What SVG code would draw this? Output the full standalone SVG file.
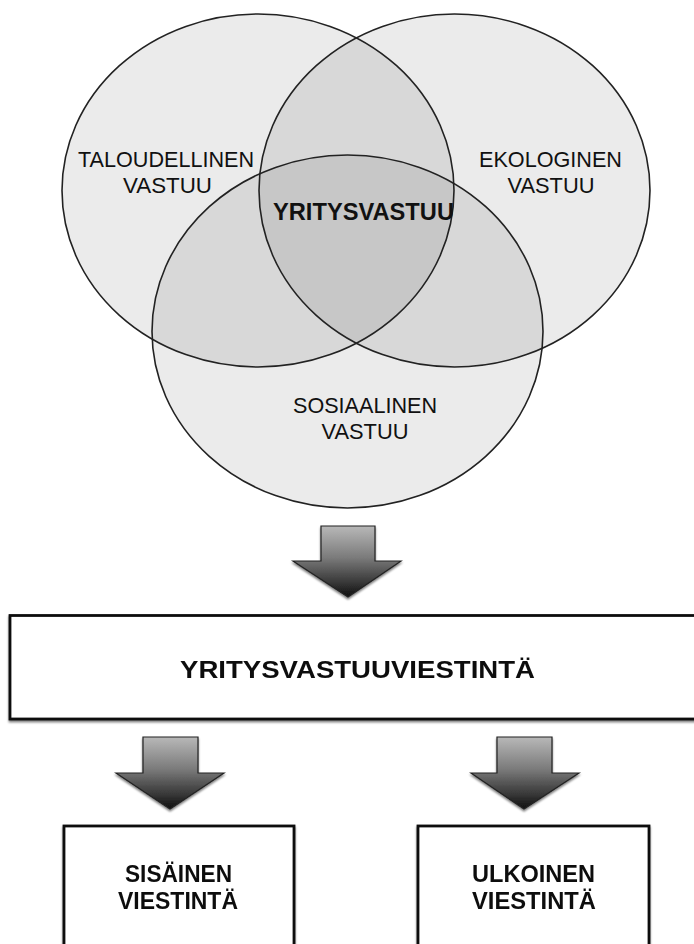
<svg xmlns="http://www.w3.org/2000/svg" width="694" height="944" viewBox="0 0 694 944">
<defs>
<linearGradient id="ag" x1="0" y1="0" x2="0" y2="1">
<stop offset="0" stop-color="#b8b8b8"/>
<stop offset="0.45" stop-color="#7a7a7a"/>
<stop offset="1" stop-color="#101010"/>
</linearGradient>
<filter id="sh" x="-10%" y="-10%" width="130%" height="130%">
<feGaussianBlur in="SourceAlpha" stdDeviation="1.2"/>
<feOffset dx="0" dy="1.5" result="b"/>
<feComponentTransfer><feFuncA type="linear" slope="0.5"/></feComponentTransfer>
<feMerge><feMergeNode/><feMergeNode in="SourceGraphic"/></feMerge>
</filter>
</defs>
<style>
.fill{fill:#000;fill-opacity:0.08;stroke:none}
.ring{fill:none;stroke:#222;stroke-width:1.6}
.lbl{font-family:"Liberation Sans",Arial,sans-serif;font-size:21.5px;fill:#111;text-anchor:middle}
.b{font-weight:bold;font-size:23px}
.box{fill:#fff;stroke:#111;stroke-width:2.8}
.arrow{fill:url(#ag);stroke:#222;stroke-width:1.2;stroke-linejoin:miter}
</style>
<rect width="694" height="944" fill="#fff"/>
<g id="venn">
<ellipse class="fill" cx="258" cy="190.5" rx="196" ry="176.5"/>
<ellipse class="fill" cx="454.5" cy="190.5" rx="195.5" ry="176.5"/>
<ellipse class="fill" cx="347.5" cy="331.5" rx="195.5" ry="176.5"/>
<ellipse class="ring" cx="258" cy="190.5" rx="196" ry="176.5"/>
<ellipse class="ring" cx="454.5" cy="190.5" rx="195.5" ry="176.5"/>
<ellipse class="ring" cx="347.5" cy="331.5" rx="195.5" ry="176.5"/>
</g>
<g id="taloudellinen">
<text class="lbl" x="166" y="167" textLength="176" lengthAdjust="spacingAndGlyphs">TALOUDELLINEN</text>
<text class="lbl" x="167.5" y="192.5" textLength="89" lengthAdjust="spacingAndGlyphs">VASTUU</text>
</g>
<g id="ekologinen">
<text class="lbl" x="550.5" y="167" textLength="143" lengthAdjust="spacingAndGlyphs">EKOLOGINEN</text>
<text class="lbl" x="551" y="192.5" textLength="87" lengthAdjust="spacingAndGlyphs">VASTUU</text>
</g>
<g id="yritysvastuu">
<text class="lbl b" x="363.5" y="220" textLength="181" lengthAdjust="spacingAndGlyphs">YRITYSVASTUU</text>
</g>
<g id="sosiaalinen">
<text class="lbl" x="365" y="413" textLength="144" lengthAdjust="spacingAndGlyphs">SOSIAALINEN</text>
<text class="lbl" x="365" y="438.5" textLength="87" lengthAdjust="spacingAndGlyphs">VASTUU</text>
</g>
<g id="connectors" filter="url(#sh)">
<path class="arrow" d="M321 526 H375 V561 H401 L348 597 L293 561 H321 Z"/>
<path class="arrow" d="M143 737 H198 V773 H224 L170 809 L116 773 H143 Z"/>
<path class="arrow" d="M497 737 H552 V773 H579 L524 809 L471 773 H497 Z"/>
</g>
<g id="viestinta" filter="url(#sh)">
<rect class="box" x="10" y="615.5" width="700" height="103.5"/>
<text class="lbl b" x="357.5" y="678" textLength="355" lengthAdjust="spacingAndGlyphs">YRITYSVASTUUVIESTINTÄ</text>
</g>
<g id="sisainen" filter="url(#sh)">
<rect class="box" x="64" y="826" width="230" height="140"/>
<text class="lbl b" x="178.5" y="882" textLength="107" lengthAdjust="spacingAndGlyphs">SISÄINEN</text>
<text class="lbl b" x="178" y="908.5" textLength="120" lengthAdjust="spacingAndGlyphs">VIESTINTÄ</text>
</g>
<g id="ulkoinen" filter="url(#sh)">
<rect class="box" x="418" y="826" width="231" height="140"/>
<text class="lbl b" x="533.5" y="882" textLength="123" lengthAdjust="spacingAndGlyphs">ULKOINEN</text>
<text class="lbl b" x="534" y="908.5" textLength="124" lengthAdjust="spacingAndGlyphs">VIESTINTÄ</text>
</g>
</svg>
